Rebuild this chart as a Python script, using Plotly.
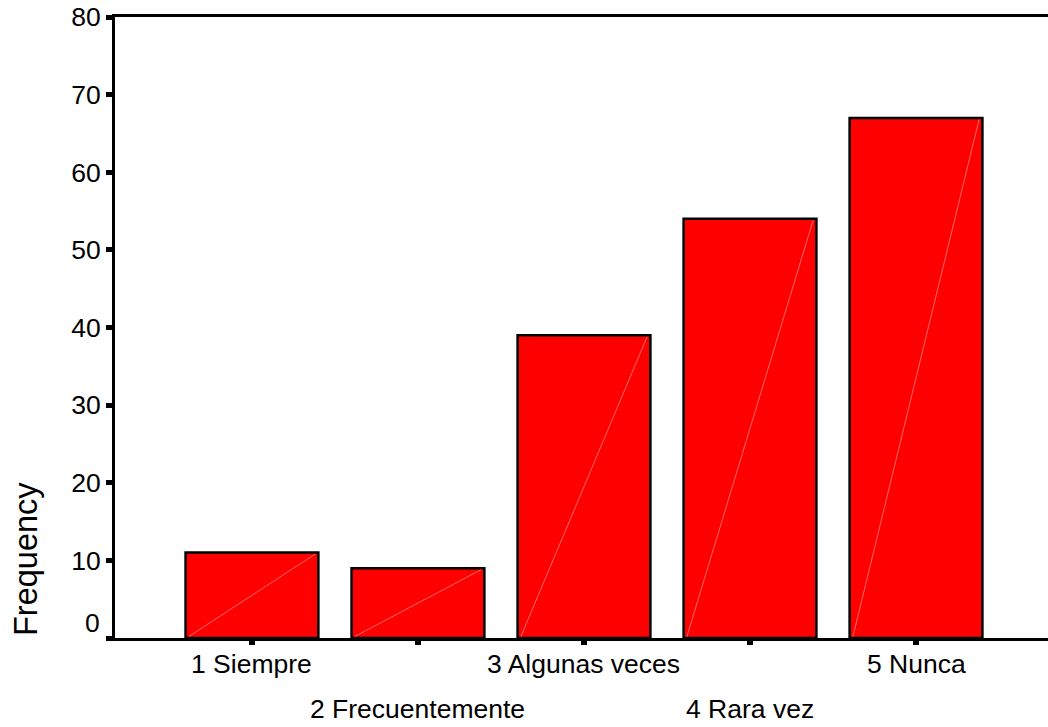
import plotly.graph_objects as go

categories = ["1 Siempre", "2 Frecuentemente", "3 Algunas veces", "4 Rara vez", "5 Nunca"]
frequencies = [11, 9, 39, 54, 67]
y_ticks = [0, 10, 20, 30, 40, 50, 60, 70, 80]

FONT = "Liberation Sans, Arial, sans-serif"
xpos = list(range(len(categories)))
bar_w = 0.8
LABEL_SIZE = 26.5

fig = go.Figure()
fig.add_trace(go.Bar(
    x=xpos, y=frequencies, width=bar_w,
    marker=dict(color="#ff0000", line=dict(color="black", width=2.5)),
    hoverinfo="skip",
))

# faint diagonal seams inside each bar (bottom-left to top-right)
dx, dy = [], []
for x, v in zip(xpos, frequencies):
    dx += [x - bar_w / 2 + 0.02, x + bar_w / 2 - 0.02, None]
    dy += [0.2, v - 0.2, None]
fig.add_trace(go.Scatter(x=dx, y=dy, mode="lines",
                         line=dict(color="rgba(255,150,150,0.7)", width=1),
                         hoverinfo="skip"))

annotations = []
for i, lab in enumerate(categories):
    annotations.append(dict(
        x=i, xref="x", y=0, yref="paper", text=lab, showarrow=False,
        xanchor="center", yanchor="middle",
        yshift=-26 if i % 2 == 0 else -71,
        font=dict(family=FONT, size=LABEL_SIZE, color="black"),
    ))
annotations.append(dict(
    x=0, xref="paper", y=0, yref="y", text="0", showarrow=False,
    xanchor="right", yanchor="middle", xshift=-13, yshift=15,
    font=dict(family=FONT, size=LABEL_SIZE, color="black"),
))
annotations.append(dict(
    x=0, xref="paper", y=0, yref="paper", text="Frequency", showarrow=False,
    textangle=-90, xanchor="center", yanchor="bottom", xshift=-89, yshift=0,
    font=dict(family=FONT, size=32.5, color="black"),
))

fig.update_layout(
    width=1048, height=727,
    margin=dict(l=115, r=0, t=17, b=89, autoexpand=False),
    paper_bgcolor="white", plot_bgcolor="white",
    showlegend=False,
    bargap=0.2,
    annotations=annotations,
    font=dict(family=FONT, size=LABEL_SIZE, color="black"),
    xaxis=dict(
        range=[-0.825, 4.795], tickvals=xpos, showticklabels=False,
        ticks="outside", ticklen=4, tickwidth=6, tickcolor="black",
        showline=True, linecolor="black", linewidth=3, mirror=True,
        showgrid=False, zeroline=False, fixedrange=True, automargin=False,
    ),
    yaxis=dict(
        range=[0, 80], tickvals=y_ticks,
        ticktext=["" if t == 0 else str(t) for t in y_ticks],
        ticks="outside", ticklen=6, tickwidth=5, tickcolor="black",
        showline=True, linecolor="black", linewidth=3,
        showgrid=False, zeroline=False, fixedrange=True, automargin=False,
        ticklabeloverflow="allow",
        tickfont=dict(family=FONT, size=LABEL_SIZE, color="black"),
    ),
)

fig.write_html(
    "out.html",
    config={"displayModeBar": False},
    post_script="document.body.style.margin='0px';document.body.style.overflow='hidden';",
)
